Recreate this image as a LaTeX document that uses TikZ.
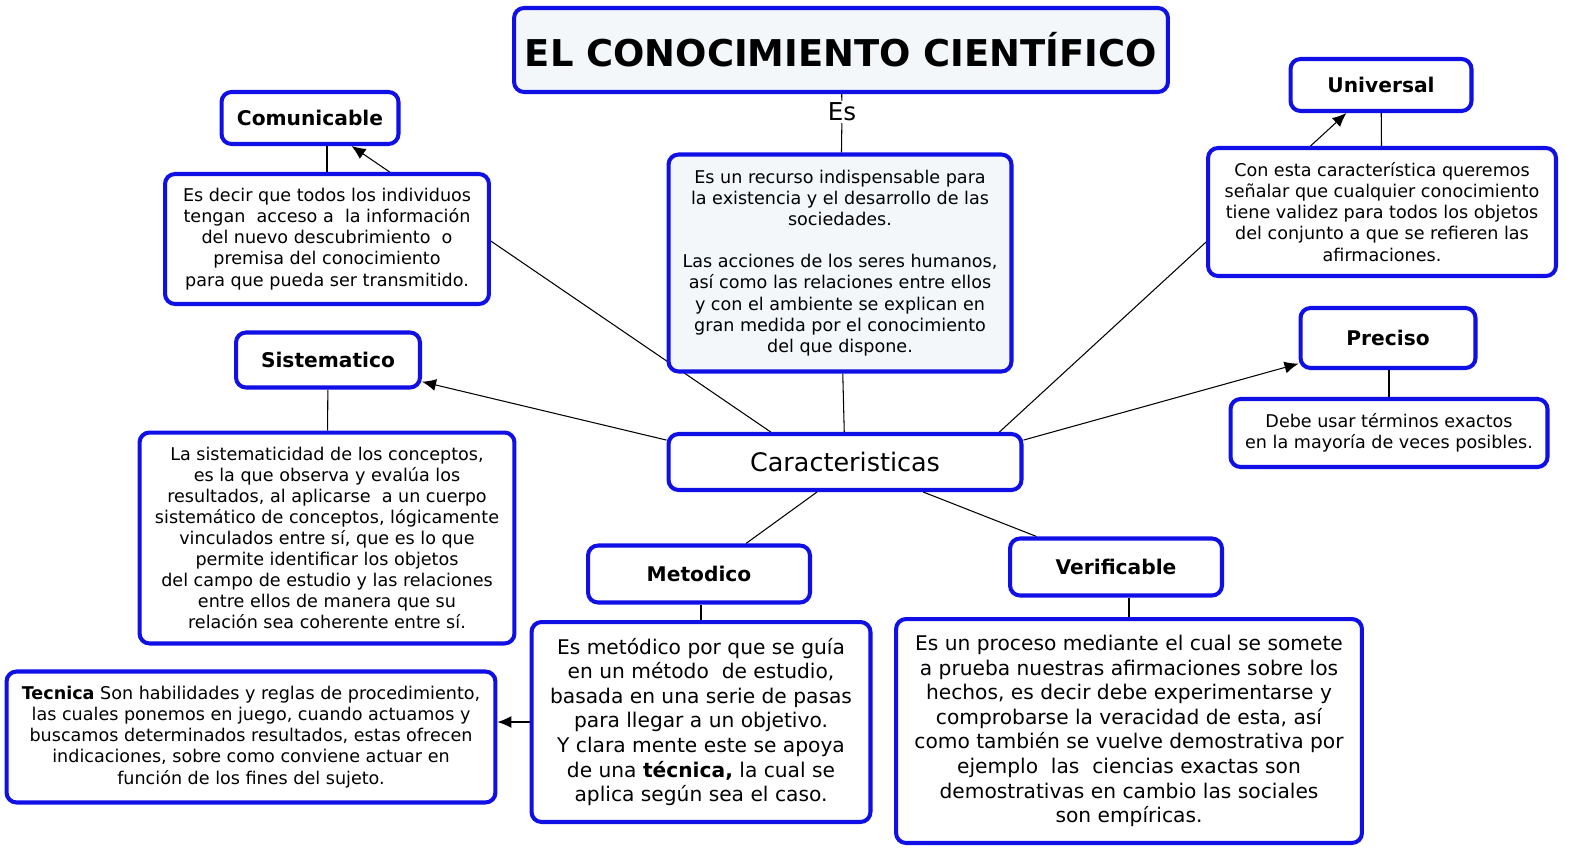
\documentclass[tikz,border=0pt]{standalone}
\usepackage{fontspec}
\setmainfont{DejaVu Sans}
\usepackage{xcolor}
\usepackage{tikz}
\usetikzlibrary{positioning,arrows.meta,backgrounds}
\definecolor{mapblue}{RGB}{16,16,230}
\definecolor{mapfill}{RGB}{244,247,250}

\begin{document}
\begin{tikzpicture}[x=0.02cm,y=-0.02cm,
    basebox/.style={rectangle,rounded corners=0.2cm,draw=mapblue,line width=2.3pt,fill=white,align=center,inner sep=2pt},
    headbox/.style={basebox,font=\fontsize{11.5}{14}\selectfont\bfseries},
    textbox/.style={basebox,font=\fontsize{10}{12}\selectfont},
    bigbox/.style={basebox,font=\fontsize{11.5}{14}\selectfont},
    link/.style={draw,line width=0.6pt},
    linkarrow/.style={link,-{Latex[length=0.28cm,width=0.24cm]}}]
    \useasboundingbox (0,0) rectangle (1594,861);

    % centre
    \node[basebox,fill=mapfill,font=\fontsize{21}{25}\selectfont\bfseries,minimum width=13.08cm,minimum height=1.68cm] (top) at (841,50) {EL CONOCIMIENTO CIENTÍFICO};
    \node[font=\fontsize{14}{16}\selectfont,inner sep=1pt] (es) at (842,112) {Es};
    \node[textbox,fill=mapfill,minimum width=6.86cm,minimum height=4.34cm] (desc) at (840,263)
        {Es un recurso indispensable para\\ la existencia y el desarrollo de las\\ sociedades.\\[12pt]
         Las acciones de los seres humanos,\\ así como las relaciones entre ellos\\ y con el ambiente se explican en\\
         gran medida por el conocimiento\\ del que dispone.};
    \node[basebox,font=\fontsize{14.5}{17}\selectfont,minimum width=7.06cm,minimum height=1.12cm] (car) at (845,462) {Caracteristicas};

    % left side
    \node[headbox,minimum width=3.54cm,minimum height=1.04cm] (comun) at (310,118) {Comunicable};
    \node[textbox,minimum width=6.48cm,minimum height=2.6cm] (comuntxt) at (327,239)
        {Es decir que todos los individuos\\ tengan\ \ acceso a\ \ la información\\ del nuevo descubrimiento\ \ o\\
         premisa del conocimiento\\ para que pueda ser transmitido.};
    \node[headbox,minimum width=3.68cm,minimum height=1.1cm] (sist) at (328,360) {Sistematico};
    \node[textbox,minimum width=7.5cm,minimum height=4.22cm] (sisttxt) at (327,538)
        {La sistematicidad de los conceptos,\\ es la que observa y evalúa los\\ resultados, al aplicarse\ \ a un cuerpo\\
         sistemático de conceptos, lógicamente\\ vinculados entre sí, que es lo que\\ permite identificar los objetos\\
         del campo de estudio y las relaciones\\ entre ellos de manera que su\\ relación sea coherente entre sí.};

    % right side
    \node[headbox,minimum width=3.62cm,minimum height=1.04cm] (univ) at (1381,85) {Universal};
    \node[textbox,minimum width=6.96cm,minimum height=2.56cm] (univtxt) at (1382,212)
        {Con esta característica queremos\\ señalar que cualquier conocimiento\\ tiene validez para todos los objetos\\
         del conjunto a que se refieren las\\ afirmaciones.};
    \node[headbox,minimum width=3.5cm,minimum height=1.2cm] (prec) at (1388,338) {Preciso};
    \node[textbox,minimum width=6.34cm,minimum height=1.36cm] (prectxt) at (1389,433)
        {Debe usar términos exactos\\ en la mayoría de veces posibles.};

    % bottom
    \node[headbox,minimum width=4.44cm,minimum height=1.14cm] (met) at (699,574) {Metodico};
    \node[bigbox,minimum width=6.78cm,minimum height=4.0cm] (mettxt) at (701,722)
        {Es metódico por que se guía\\ en un método\ \ de estudio,\\ basada en una serie de pasas\\ para llegar a un objetivo.\\
         Y clara mente este se apoya\\ de una \textbf{técnica,} la cual se\\ aplica según sea el caso.};
    \node[textbox,minimum width=9.78cm,minimum height=2.62cm] (tec) at (251,737)
        {\textbf{Tecnica} Son habilidades y reglas de procedimiento,\\ las cuales ponemos en juego, cuando actuamos y\\
         buscamos determinados resultados, estas ofrecen\\ indicaciones, sobre como conviene actuar en\\ función de los fines del sujeto.};
    \node[headbox,minimum width=4.24cm,minimum height=1.14cm] (ver) at (1116,567) {Verificable};
    \node[bigbox,minimum width=9.32cm,minimum height=4.48cm] (vertxt) at (1129,731)
        {Es un proceso mediante el cual se somete\\ a prueba nuestras afirmaciones sobre los\\ hechos, es decir debe experimentarse y\\
         comprobarse la veracidad de esta, así\\ como también se vuelve demostrativa por\\ ejemplo\ \ las\ \ ciencias exactas son\\
         demostrativas en cambio las sociales\\ son empíricas.};

    % links
    \begin{scope}[on background layer]
        \draw[link] (top) -- (es) -- (desc);
        \draw[link] (car) -- (desc);
        \draw[linkarrow] (car.158) -- (comun.326);
        \draw[linkarrow] (car.173) -- (sist.347);
        \draw[linkarrow] (car.11) -- (univ.219);
        \draw[linkarrow] (car.7) -- (prec.196);
        \draw[link] (car.227) -- (met.33);
        \draw[link] (car.339) -- (ver.159);
        \draw[link] (comuntxt.north) -- (comuntxt.north |- comun.south);
        \draw[link] (sist) -- (sisttxt);
        \draw[link] (univ) -- (univtxt);
        \draw[link] (prectxt.north) -- (prectxt.north |- prec.south);
        \draw[link] (mettxt.north) -- (mettxt.north |- met.south);
        \draw[link] (vertxt.north) -- (vertxt.north |- ver.south);
        \draw[linkarrow] (mettxt.west) -- (mettxt.west -| tec.east);
    \end{scope}
\end{tikzpicture}
\end{document}
